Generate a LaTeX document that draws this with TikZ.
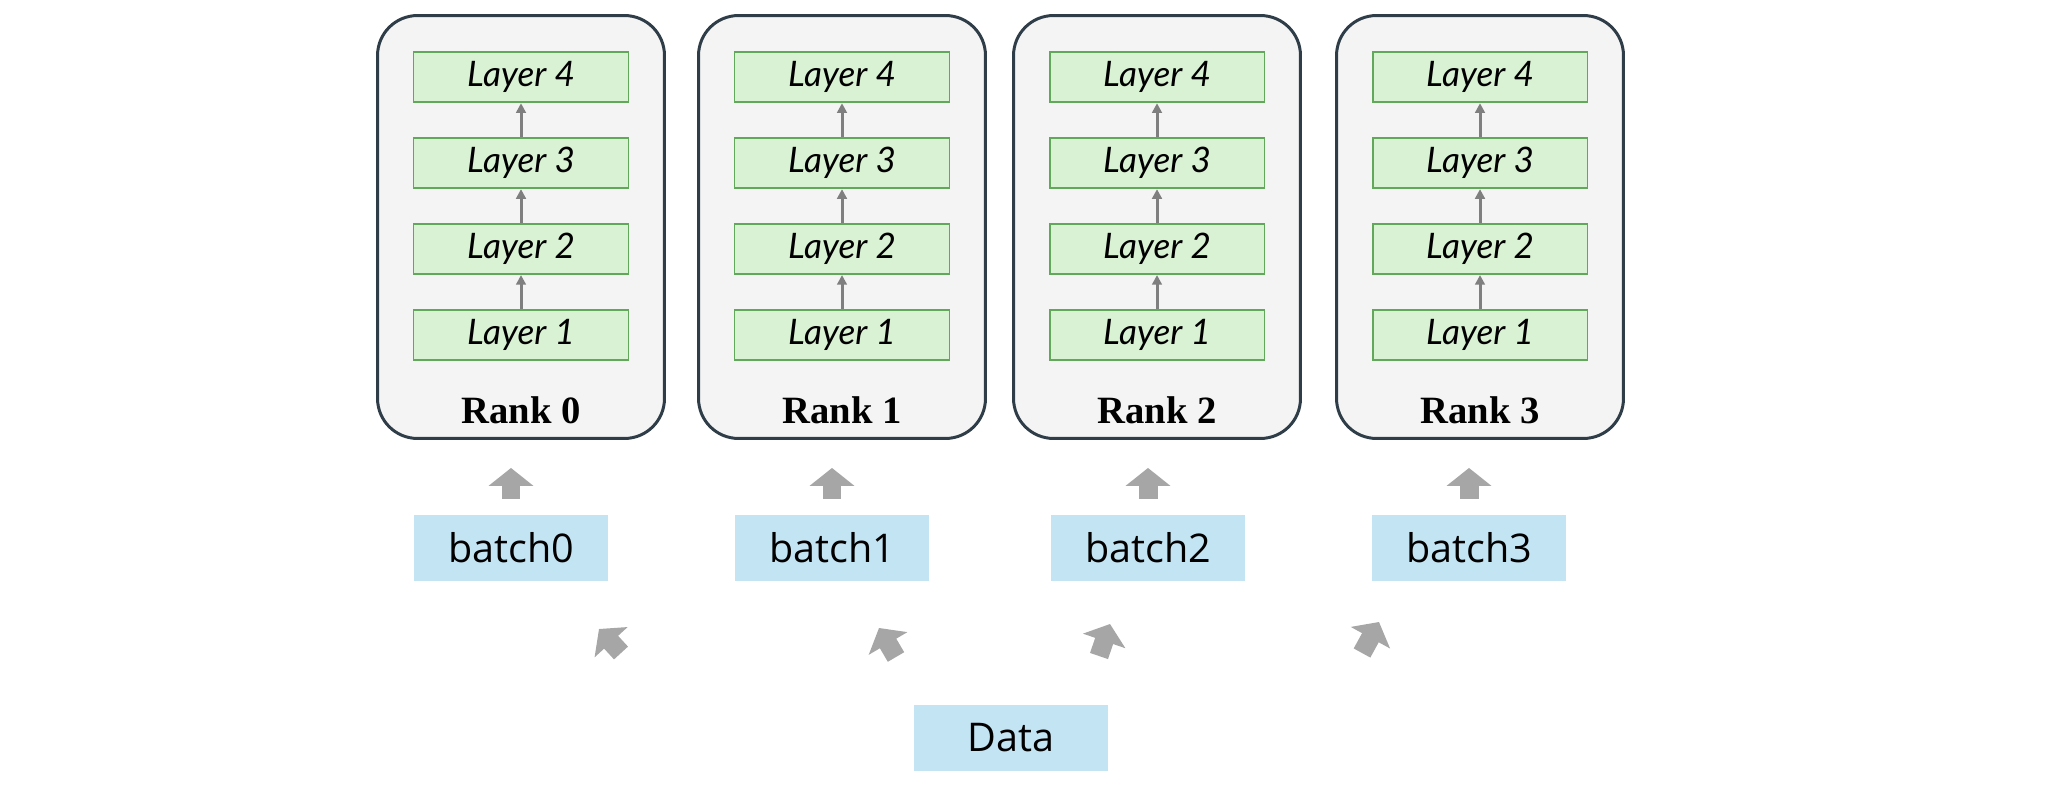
\documentclass[tikz,border=0pt]{standalone}
\usepackage{fontspec}
\setmainfont{Liberation Serif}
\newfontfamily\batchfont{Open Sans}
\newfontfamily\layerfont{Lato}
\usepackage{xcolor}
\usepackage{tikz}
\usetikzlibrary{arrows.meta, positioning}
\definecolor{rankfill}{HTML}{F4F4F4}
\definecolor{rankdraw}{HTML}{2E3D47}
\definecolor{layerfill}{HTML}{DAF2D4}
\definecolor{layerdraw}{HTML}{62A85A}
\definecolor{batchfill}{HTML}{C3E4F3}
\definecolor{bigarrowgray}{HTML}{A6A6A6}
\definecolor{layerarrowgray}{HTML}{7F7F7F}

\begin{document}
\begin{tikzpicture}[
          x=0.02cm, y=-0.02cm,
          every node/.style={align=center},
          rank/.style={draw=rankdraw, fill=rankfill, line width=1.7pt, rounded corners=0.8cm,
            minimum width=5.74cm, minimum height=8.46cm},
          layer/.style={draw=layerdraw, fill=layerfill, line width=1.1pt, inner sep=1pt,
            minimum width=4.3cm, minimum height=1cm, node distance=0.68cm,
            font=\layerfont\itshape\fontsize{20}{22}\selectfont},
          ranktext/.style={font=\bfseries\fontsize{22}{26}\selectfont},
          batch/.style={fill=batchfill, inner sep=1pt, minimum width=3.88cm, minimum height=1.32cm,
            font=\batchfont\fontsize{22.5}{26}\selectfont},
          arrow/.style={-{Triangle[width=5.5pt,length=5.5pt]}, layerarrowgray, line width=1.7pt},
          bigarrow/.style={-{Triangle[width=25pt,length=10.2pt]}, bigarrowgray, line width=10.8pt}
        ]
          \useasboundingbox (0,0) rectangle (2062,794);

          % One rank per column, with its batch below
          \foreach \i/\rx/\bx in {0/521/511, 1/842/832, 2/1157/1148, 3/1480/1469} {
            \node[rank] (r\i) at (\rx,227) {};
            \node[layer] (l\i-1) at (\rx,335) {Layer 1};
            \node[layer, above=of l\i-1] (l\i-2) {Layer 2};
            \node[layer, above=of l\i-2] (l\i-3) {Layer 3};
            \node[layer, above=of l\i-3] (l\i-4) {Layer 4};
            \node[ranktext] (n\i) at (\rx,410) {Rank \i};

            \draw[arrow] (l\i-1) -- (l\i-2);
            \draw[arrow] (l\i-2) -- (l\i-3);
            \draw[arrow] (l\i-3) -- (l\i-4);

            \node[batch] (b\i) at (\bx,548) {batch\i};
            \draw[bigarrow, shorten <=0.32cm, shorten >=0.56cm] (b\i.north) -- (b\i.north |- r\i.south);
          }

          % Data at the bottom
          \node[batch] (data) at (1011,738) {Data};

          % Arrows
          \coordinate (t0) at (621,653);
          \coordinate (h0) at (599,629);
          \coordinate (t1) at (896,657);
          \coordinate (h1) at (879,628);
          \coordinate (t2) at (1099,656);
          \coordinate (h2) at (1110,624);
          \coordinate (t3) at (1362,653);
          \coordinate (h3) at (1379,622);
          \draw[bigarrow] (t0) -- (h0);
          \draw[bigarrow] (t1) -- (h1);
          \draw[bigarrow] (t2) -- (h2);
          \draw[bigarrow] (t3) -- (h3);
        \end{tikzpicture}
\end{document}
